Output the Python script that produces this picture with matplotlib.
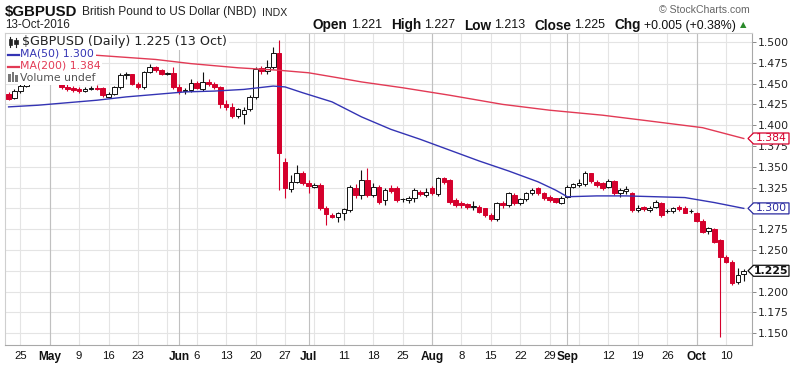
import matplotlib
matplotlib.use('Agg')
import matplotlib.pyplot as plt
from matplotlib.patches import Rectangle, Polygon
import pandas as pd
import numpy as np

###################################################################################################
# data: daily GBPUSD candles, 21 Apr 2016 .. 13 Oct 2016

dates = pd.bdate_range('2016-04-21', '2016-10-13')

opens = [1.438, 1.433, 1.441, 1.447, 1.458, 1.456, 1.461, 1.462, 1.467, 1.459,
         1.446, 1.445, 1.444, 1.441, 1.444, 1.445, 1.445, 1.434, 1.438, 1.446,
         1.460, 1.461, 1.450, 1.446, 1.464, 1.470, 1.466, 1.462, 1.463, 1.446,
         1.441, 1.442, 1.451, 1.443, 1.452, 1.450, 1.446, 1.426, 1.422, 1.411,
         1.413, 1.419, 1.434, 1.469, 1.465, 1.470, 1.487, 1.356, 1.323, 1.332,
         1.343, 1.331, 1.326, 1.328, 1.301, 1.292, 1.290, 1.294, 1.298, 1.325,
         1.316, 1.334, 1.316, 1.326, 1.310, 1.324, 1.325, 1.311, 1.310, 1.312,
         1.320, 1.316, 1.324, 1.317, 1.336, 1.334, 1.310, 1.307, 1.305, 1.302,
         1.302, 1.300, 1.292, 1.287, 1.307, 1.304, 1.316, 1.307, 1.311, 1.318,
         1.324, 1.318, 1.314, 1.312, 1.307, 1.314, 1.326, 1.328, 1.329, 1.342,
         1.332, 1.330, 1.326, 1.333, 1.318, 1.321, 1.318, 1.298, 1.302, 1.298,
         1.302, 1.306, 1.297, 1.297, 1.302, 1.301, 1.297, 1.295, 1.285, 1.273,
         1.275, 1.262, 1.242, 1.236, 1.211, 1.221]
highs = [1.440, 1.443, 1.449, 1.460, 1.461, 1.464, 1.468, 1.470, 1.477, 1.460,
         1.449, 1.447, 1.446, 1.446, 1.447, 1.448, 1.446, 1.440, 1.447, 1.463,
         1.464, 1.462, 1.452, 1.465, 1.474, 1.471, 1.468, 1.464, 1.470, 1.449,
         1.445, 1.455, 1.453, 1.464, 1.455, 1.452, 1.447, 1.430, 1.427, 1.421,
         1.422, 1.436, 1.470, 1.471, 1.478, 1.494, 1.502, 1.360, 1.340, 1.352,
         1.345, 1.334, 1.330, 1.330, 1.303, 1.294, 1.296, 1.301, 1.328, 1.329,
         1.346, 1.348, 1.330, 1.328, 1.324, 1.328, 1.327, 1.313, 1.315, 1.324,
         1.322, 1.325, 1.327, 1.338, 1.338, 1.335, 1.312, 1.309, 1.306, 1.309,
         1.304, 1.301, 1.294, 1.308, 1.309, 1.320, 1.318, 1.313, 1.320, 1.324,
         1.326, 1.320, 1.316, 1.313, 1.315, 1.328, 1.331, 1.335, 1.345, 1.343,
         1.334, 1.332, 1.335, 1.334, 1.325, 1.327, 1.320, 1.304, 1.303, 1.303,
         1.310, 1.308, 1.299, 1.302, 1.304, 1.303, 1.299, 1.296, 1.287, 1.278,
         1.276, 1.263, 1.244, 1.238, 1.228, 1.227]
lows = [1.430, 1.431, 1.439, 1.446, 1.452, 1.453, 1.457, 1.459, 1.455, 1.443,
        1.441, 1.440, 1.439, 1.440, 1.442, 1.442, 1.434, 1.433, 1.436, 1.444,
        1.456, 1.448, 1.443, 1.444, 1.463, 1.464, 1.460, 1.460, 1.444, 1.438,
        1.438, 1.440, 1.443, 1.441, 1.447, 1.444, 1.421, 1.418, 1.409, 1.409,
        1.401, 1.417, 1.432, 1.462, 1.462, 1.468, 1.322, 1.312, 1.320, 1.330,
        1.328, 1.318, 1.324, 1.298, 1.280, 1.288, 1.284, 1.286, 1.296, 1.313,
        1.311, 1.314, 1.314, 1.305, 1.304, 1.318, 1.308, 1.308, 1.307, 1.308,
        1.315, 1.314, 1.316, 1.315, 1.329, 1.305, 1.302, 1.301, 1.299, 1.298,
        1.294, 1.290, 1.285, 1.285, 1.300, 1.302, 1.304, 1.304, 1.309, 1.316,
        1.316, 1.310, 1.308, 1.306, 1.305, 1.312, 1.324, 1.326, 1.327, 1.331,
        1.326, 1.322, 1.324, 1.316, 1.314, 1.317, 1.296, 1.296, 1.297, 1.296,
        1.300, 1.290, 1.295, 1.294, 1.297, 1.294, 1.295, 1.284, 1.271, 1.269,
        1.258, 1.146, 1.234, 1.208, 1.209, 1.213]
closes = [1.432, 1.441, 1.447, 1.458, 1.456, 1.461, 1.462, 1.467, 1.459, 1.446,
          1.443, 1.442, 1.441, 1.444, 1.445, 1.444, 1.436, 1.438, 1.446, 1.460,
          1.461, 1.450, 1.446, 1.464, 1.470, 1.466, 1.462, 1.462, 1.446, 1.441,
          1.442, 1.451, 1.445, 1.452, 1.449, 1.446, 1.425, 1.422, 1.411, 1.419,
          1.418, 1.434, 1.468, 1.465, 1.470, 1.487, 1.367, 1.325, 1.332, 1.343,
          1.331, 1.327, 1.328, 1.301, 1.293, 1.290, 1.294, 1.299, 1.326, 1.316,
          1.334, 1.316, 1.326, 1.308, 1.322, 1.321, 1.310, 1.311, 1.313, 1.322,
          1.317, 1.320, 1.318, 1.336, 1.332, 1.308, 1.304, 1.304, 1.302, 1.302,
          1.296, 1.292, 1.287, 1.306, 1.304, 1.318, 1.306, 1.311, 1.318, 1.322,
          1.318, 1.312, 1.310, 1.308, 1.313, 1.326, 1.329, 1.331, 1.342, 1.333,
          1.328, 1.324, 1.333, 1.318, 1.322, 1.323, 1.298, 1.301, 1.299, 1.301,
          1.308, 1.292, 1.297, 1.300, 1.299, 1.295, 1.297, 1.285, 1.272, 1.276,
          1.260, 1.242, 1.236, 1.210, 1.220, 1.225]

# moving averages, sampled along the curves (candle index, value)
ma50_idx = [0, 5, 10, 15, 20, 25, 30, 35, 40, 45, 47, 50, 55, 60, 65, 70, 75, 80,
            85, 90, 93, 95, 100, 105, 110, 115, 120, 125]
ma50_val = [1.422, 1.424, 1.427, 1.430, 1.434, 1.437, 1.440, 1.441, 1.443, 1.447,
            1.446, 1.439, 1.428, 1.410, 1.395, 1.383, 1.370, 1.357, 1.345, 1.332,
            1.322, 1.314, 1.315, 1.315, 1.314, 1.313, 1.307, 1.300]
ma200_idx = [0, 15, 25, 31, 39, 46, 51, 56, 60, 67, 75, 84, 92, 101, 109, 118, 125]
ma200_val = [1.487, 1.484, 1.479, 1.474, 1.469, 1.466, 1.463, 1.457, 1.452, 1.445,
             1.436, 1.425, 1.418, 1.412, 1.405, 1.397, 1.384]

y_ticks = [1.150, 1.175, 1.200, 1.225, 1.250, 1.275, 1.300, 1.325, 1.350, 1.375,
           1.400, 1.425, 1.450, 1.475, 1.500]

###################################################################################################

W, H = 800, 366
RED = '#d5002c'
MA_RED = '#e23a55'
MA_BLUE = '#3434b4'
GRID = '#e4e4e4'

def fx(x):
    return x / W

def fy(y):
    return 1 - y / H

fig = plt.figure(figsize=(W / 100, H / 100), dpi=100)
fig.patch.set_facecolor('white')
ax = fig.add_axes([fx(5), fy(345), 747 / W, 312 / H])
ax.set_xlim(-0.61, 126.4)
ax.set_ylim(1.1358, 1.5108)

# grid
for v in y_ticks:
    ax.axhline(v, color=GRID, lw=0.8, zorder=0)
months = [i for i in range(1, len(dates)) if dates[i].month != dates[i - 1].month]
mondays = [i for i, d in enumerate(dates) if d.weekday() == 0]
for i in mondays:
    ax.axvline(i, color=GRID, lw=0.8, zorder=0)
for i in months:
    ax.axvline(i, color='#c0c0c0', lw=0.8, zorder=0)

# candles
n = len(dates)
for i in range(n):
    o, h, l, c = opens[i], highs[i], lows[i], closes[i]
    up = c >= o
    col = '#111111' if up else RED
    ax.vlines(i, l, h, color=col, lw=0.8, zorder=2)
    lo = min(o, c)
    ht = max(abs(c - o), 0.0003)
    ax.add_patch(Rectangle((i - 0.39, lo), 0.78, ht,
                           facecolor='white' if up else RED,
                           edgecolor=col, lw=0.7, zorder=3))

ax.plot(ma200_idx, ma200_val, color=MA_RED, lw=1.0, zorder=4)
ax.plot(ma50_idx, ma50_val, color=MA_BLUE, lw=1.0, zorder=4)

# axes styling
for s in ['top', 'left']:
    ax.spines[s].set_color('#cfcfcf')
    ax.spines[s].set_linewidth(0.8)
for s in ['right', 'bottom']:
    ax.spines[s].set_color('#a8a8a8')
    ax.spines[s].set_linewidth(0.8)
    ax.spines[s].set_linestyle((0, (1, 1)))

# tags below replace the labels at the MA50 and close levels
tagged = ['%.3f' % ma50_val[-1], '%.3f' % closes[-1]]
ax.yaxis.tick_right()
ax.set_yticks(y_ticks)
ax.set_yticklabels(['' if '%.3f' % v in tagged else '%.3f' % v for v in y_ticks])
ax.tick_params(axis='y', length=3, width=0.7, color='#888888', pad=1,
               labelsize=7.8, labelcolor='#222222')

xt, xl = [], []
for i in months:
    xt.append(i)
    xl.append(dates[i].strftime('%b'))
for i in mondays:
    if i in months or min(abs(i - m) for m in months) <= 2:
        continue
    xt.append(i)
    xl.append(str(dates[i].day))
ax.set_xticks(xt)
ax.set_xticklabels(xl)
ax.tick_params(axis='x', length=0, pad=4, labelcolor='#111111')
for t in ax.get_xticklabels():
    t.set_fontfamily('Liberation Sans')
    if t.get_text().isalpha():
        t.set_fontweight('bold')
        t.set_fontsize(8.6)
    else:
        t.set_fontsize(8.2)

###################################################################################################
# header texts

renderer = fig.canvas.get_renderer()

def width(t):
    return t.get_window_extent(renderer).width

t1 = fig.text(fx(5), fy(12), '$GBPUSD', fontsize=10.8, fontweight='bold',
              family='Liberation Sans', va='center', color='#111111')
x = 5 + width(t1) + 5
t2 = fig.text(fx(x), fy(12), 'British Pound to US Dollar (NBD)', fontsize=8.6,
              family='Liberation Sans', va='center', color='#222222')
x += width(t2) + 5
fig.text(fx(x), fy(12.5), 'INDX', fontsize=7.6, family='Liberation Sans',
         va='center', color='#222222')
fig.text(fx(5), fy(25), '13-Oct-2016', fontsize=8.4, family='Liberation Sans',
         va='center', color='#222222')
fig.text(fx(750), fy(10), '\u00a9 StockCharts.com', fontsize=7.6,
         family='Liberation Sans', va='center', ha='right', color='#666666')

pieces = [('Open', True, 3), ('1.221', False, 9), ('High', True, 3), ('1.227', False, 9),
          ('Low', True, 3), ('1.213', False, 9), ('Close', True, 3), ('1.225', False, 9),
          ('Chg', True, 3), ('+0.005 (+0.38%)', False, 4)]
texts = []
for s, bold, gap in pieces:
    t = fig.text(0, fy(25.5), s, fontsize=9.8 if bold else 8.9,
                 fontweight='bold' if bold else 'normal',
                 family='Liberation Sans', va='center', color='#111111')
    texts.append((t, gap))
tri = fig.text(0, fy(25), '\u25b2', fontsize=6, family='DejaVu Sans',
               va='center', color='#2a8a2a')
total = sum(width(t) + g for t, g in texts) + width(tri)
x = 746 - total
for t, g in texts:
    t.set_x(fx(x))
    x += width(t) + g
tri.set_x(fx(x))

###################################################################################################
# legend inside plot

box = dict(facecolor='white', edgecolor='none', pad=1.2)
fig.text(fx(22), fy(42), '$GBPUSD (Daily) 1.225 (13 Oct)', fontsize=9.2,
         family='DejaVu Sans', va='center', color='#222222', bbox=box, zorder=5)
fig.text(fx(20), fy(54), 'MA(50) 1.300', fontsize=7.8, family='DejaVu Sans',
         va='center', color=MA_BLUE, bbox=box, zorder=5)
fig.text(fx(20), fy(66), 'MA(200) 1.384', fontsize=7.8, family='DejaVu Sans',
         va='center', color=MA_RED, bbox=box, zorder=5)
fig.text(fx(20), fy(78), 'Volume undef', fontsize=7.8, family='DejaVu Sans',
         va='center', color='#555555', bbox=box, zorder=5)
fig.add_artist(Rectangle((fx(6), fy(84)), fx(15), 48 / H, transform=fig.transFigure,
                         facecolor='white', edgecolor='none', zorder=4))
fig.add_artist(plt.Line2D([fx(8), fx(19)], [fy(54.5), fy(54.5)], color=MA_BLUE, lw=1.6,
                          transform=fig.transFigure, zorder=6))
fig.add_artist(plt.Line2D([fx(8), fx(19)], [fy(66.5), fy(66.5)], color=MA_RED, lw=1.6,
                          transform=fig.transFigure, zorder=6))
# candle icon
for cx, y0, y1, b0, b1 in [(10, 37, 47, 39, 45), (16, 38, 47, 40, 44)]:
    fig.add_artist(plt.Line2D([fx(cx), fx(cx)], [fy(y0), fy(y1)], color='#222222', lw=0.8,
                              transform=fig.transFigure, zorder=6))
    fig.add_artist(Rectangle((fx(cx - 1.5), fy(b1)), 3 / W, (b1 - b0) / H,
                             transform=fig.transFigure, facecolor='#222222',
                             edgecolor='#222222', lw=0.5, zorder=6))
# volume icon
for bx, bt in [(8, 74), (11.5, 72), (15, 75)]:
    fig.add_artist(Rectangle((fx(bx), fy(82)), 2.5 / W, (82 - bt) / H,
                             transform=fig.transFigure, facecolor='#777777',
                             edgecolor='none', zorder=6))

###################################################################################################
# value tags on the price axis

def tag(v, label, color, bold=False):
    yd = ax.transData.transform((0, v))[1]
    yp = H - yd
    pts = [(748, yp), (753.5, yp - 5.5), (789, yp - 5.5), (789, yp + 5.5), (753.5, yp + 5.5)]
    fig.add_artist(Polygon([(fx(a), fy(b)) for a, b in pts], closed=True,
                           transform=fig.transFigure, facecolor='white',
                           edgecolor=color, lw=0.9, zorder=7))
    fig.text(fx(771.5), fy(yp), label, fontsize=7.8, family='DejaVu Sans',
             fontweight='bold' if bold else 'normal', color=color,
             ha='center', va='center', zorder=8)

tag(ma200_val[-1], '%.3f' % ma200_val[-1], RED)
tag(ma50_val[-1], '%.3f' % ma50_val[-1], '#2a2aa0')
tag(closes[-1], '%.3f' % closes[-1], '#111111', bold=True)

fig.savefig('out.png', dpi=100, facecolor='white')
